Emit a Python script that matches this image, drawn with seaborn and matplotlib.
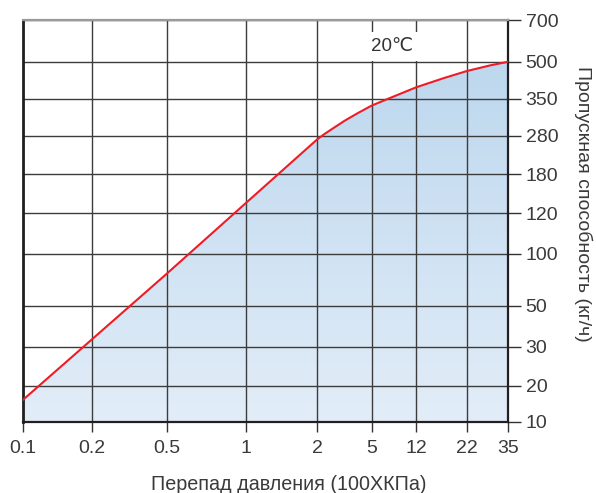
import numpy as np
import matplotlib
matplotlib.use("Agg")
import matplotlib.pyplot as plt
import seaborn as sns
from matplotlib.colors import LinearSegmentedColormap
from matplotlib.ticker import FixedLocator, FixedFormatter

# Pressure drop (x100 kPa) and flow capacity (kg/h) at 20 °C
pressure_ticks = [0.1, 0.2, 0.5, 1, 2, 5, 12, 22, 35]
flow_ticks = [10, 20, 30, 50, 100, 120, 180, 280, 350, 500, 700]

pressure = [0.1, 0.2, 0.5, 1, 2, 2.36, 2.75, 3.5, 4.25, 5, 7.62,
            12, 17.4, 22, 29.3, 35]
flow = [16, 33.5, 81, 136, 270, 282, 291, 308, 323, 337, 350,
        396, 433, 462, 485, 500]

# Non-uniform axis graduation: relative spacing of the printed scale marks
x_scale_marks = [0, 69, 144, 223.3, 294.3, 349, 393.3, 444, 485.6]
y_scale_marks = [0, 36, 75, 115.7, 167.7, 208.4, 247.4, 286, 323, 360, 401.7]


def make_scale(values, marks):
    v = np.asarray(values, float)
    m = np.asarray(marks, float)

    def fwd(a):
        return np.interp(np.asarray(a, float), v, m)

    def inv(a):
        return np.interp(np.asarray(a, float), m, v)

    return fwd, inv


sns.set_style("white")
plt.rcParams["font.family"] = ["Liberation Sans", "DejaVu Sans"]

fig = plt.figure(figsize=(5.96, 4.93), dpi=100)
ax = fig.add_axes([22.7 / 596, 1 - 421.7 / 493, 485.6 / 596, 401.7 / 493])

sns.lineplot(x=pressure, y=flow, ax=ax, color="#ee1c24", linewidth=1.5, zorder=4)

ax.set_xscale("function", functions=make_scale(pressure_ticks, x_scale_marks))
ax.set_yscale("function", functions=make_scale(flow_ticks, y_scale_marks))

# Shaded area under the curve with a vertical blue gradient
area = ax.fill_between(pressure, flow_ticks[0], flow, facecolor="none",
                       edgecolor="none")
cmap = LinearSegmentedColormap.from_list("flowfill", ["#e2edf8", "#b9d5ed"])
grad = np.linspace(0, 1, 256).reshape(-1, 1)
im = ax.imshow(grad, extent=[0, 1, 0, 1], transform=ax.transAxes,
               origin="lower", aspect="auto", cmap=cmap, zorder=0.2)
im.set_clip_path(area.get_paths()[0], transform=ax.transData)

ax.set_xlim(pressure_ticks[0], pressure_ticks[-1])
ax.set_ylim(flow_ticks[0], flow_ticks[-1])

ax.xaxis.set_major_locator(FixedLocator(pressure_ticks))
ax.xaxis.set_major_formatter(FixedFormatter([f"{t:g}" for t in pressure_ticks]))
ax.yaxis.set_major_locator(FixedLocator(flow_ticks))
ax.yaxis.set_major_formatter(FixedFormatter([str(t) for t in flow_ticks]))
ax.xaxis.set_minor_locator(FixedLocator([]))
ax.yaxis.set_minor_locator(FixedLocator([]))
ax.yaxis.tick_right()

ax.set_axisbelow(True)
ax.grid(True, color="#3c3c3c", linewidth=1.0)

ax.tick_params(axis="x", which="major", direction="out", bottom=True,
               length=7, width=1, color="#333333", pad=6,
               labelsize=14, labelcolor="#3a3a3a")
ax.tick_params(axis="y", which="major", direction="out", right=True, left=False,
               length=9, width=1, color="#333333", pad=3.5,
               labelsize=14, labelcolor="#3a3a3a")

for side in ("left", "right", "bottom"):
    ax.spines[side].set_color("#231f20")
    ax.spines[side].set_linewidth(1.6)
ax.spines["left"].set_linewidth(2.0)
ax.spines["top"].set_color("#9a9a9a")
ax.spines["top"].set_linewidth(1.6)

ax.set_xlabel("")
ax.set_ylabel("")

ax.text(0.7605, 0.9335, "20℃", transform=ax.transAxes, ha="center",
        va="center", fontsize=13.5, color="#333333", zorder=5,
        bbox=dict(facecolor="white", edgecolor="none", pad=4.5))

fig.text(289 / 596, 1 - 489.5 / 493, "Перепад давления (100ХКПа)",
         ha="center", va="baseline", fontsize=14.2, color="#3a3a3a")
fig.text(583 / 596, 1 - 204 / 493, "Пропускная способность (кг/ч)",
         ha="center", va="center", rotation=270, fontsize=14,
         color="#3a3a3a")

fig.savefig("out.png", dpi=100)
